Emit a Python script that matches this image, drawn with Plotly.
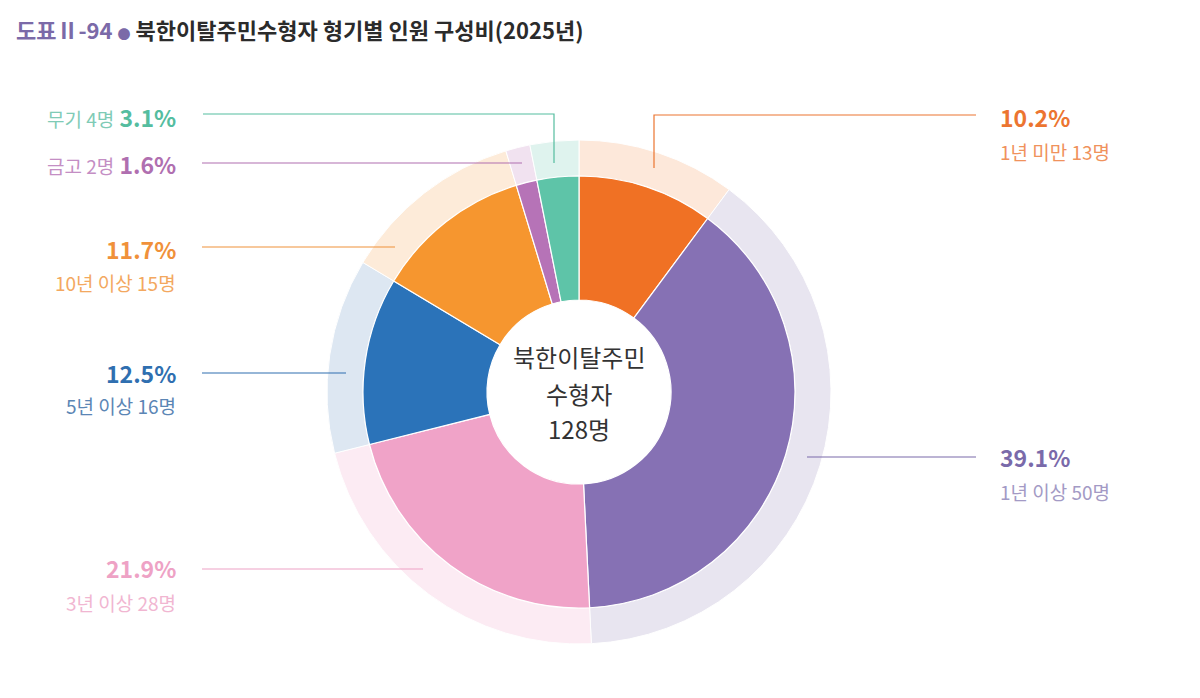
import plotly.graph_objects as go

W, H = 1200, 698

# ---- data ----
categories = ["1년 미만", "1년 이상", "3년 이상", "5년 이상", "10년 이상", "금고", "무기"]
counts = [13, 50, 28, 16, 15, 2, 4]
percents = [10.2, 39.1, 21.9, 12.5, 11.7, 1.6, 3.1]
center_lines = ["북한이탈주민", "수형자", "128명"]

# ---- styles ----
strong_colors = ["#f07124", "#8671b4", "#f0a3c8", "#2b73b9", "#f6962f", "#b673b7", "#5ec4a8"]
pale_colors = ["#fde8da", "#e8e5f0", "#fcebf3", "#dde7f2", "#fdebd9", "#f1e2f0", "#dff3ee"]
pct_colors = ["#ec7530", "#7a6aaa", "#eea2c5", "#2f6fb0", "#f0913a", "#b06fb0", "#55bd9f"]
sub_colors = ["#f0925c", "#a39ac5", "#f1b6d1", "#5b86b5", "#f3a860", "#c48ec4", "#7fcbb6"]

FONT = "Noto Sans CJK KR"

cx, cy = 579, 392
r_outer, r_inner, r_hole = 252, 216, 92


def px_dom(r):
    return dict(x=[(cx - r) / W, (cx + r) / W], y=[(H - cy - r) / H, (H - cy + r) / H])


def px(x, y):
    return x / W, 1 - y / H


fig = go.Figure()
fig.add_trace(go.Pie(
    labels=categories, values=counts, sort=False, direction="clockwise", rotation=0,
    domain=px_dom(r_outer), hole=r_inner / r_outer,
    marker=dict(colors=pale_colors, line=dict(color="white", width=1)),
    textinfo="none", hoverinfo="skip", showlegend=False,
))
fig.add_trace(go.Pie(
    labels=categories, values=counts, sort=False, direction="clockwise", rotation=0,
    domain=px_dom(r_inner), hole=r_hole / r_inner,
    marker=dict(colors=strong_colors, line=dict(color="white", width=1.2)),
    textinfo="none", hoverinfo="label+value+percent", showlegend=False,
))

annotations = []
shapes = []

SUB = 19
PCT = 23


def add_text(x, y, text, size, color, anchor, bold=False):
    xp, yp = px(x, y)
    annotations.append(dict(
        x=xp, y=yp, xref="paper", yref="paper", xanchor=anchor, yanchor="middle",
        text=f"<b>{text}</b>" if bold else text, showarrow=False,
        font=dict(family=FONT, size=size, color=color),
    ))


def add_line(points, color):
    path = "M " + " L ".join(f"{px(x, y)[0]},{px(x, y)[1]}" for x, y in points)
    shapes.append(dict(type="path", path=path, xref="paper", yref="paper",
                       line=dict(color=color, width=1.2)))


# right side
i = 0
add_text(998, 117, f"{percents[i]}%", PCT, pct_colors[i], "left", True)
add_text(998, 151, f"{categories[i]} {counts[i]}명", SUB, sub_colors[i], "left")
add_line([(976, 115), (654, 115), (654, 168)], pct_colors[i])

i = 1
add_text(998, 457, f"{percents[i]}%", PCT, pct_colors[i], "left", True)
add_text(998, 491, f"{categories[i]} {counts[i]}명", SUB, sub_colors[i], "left")
add_line([(976, 457), (807, 457)], pct_colors[i])

# left side
lx = 178
for i, (yp, ys, ly, lend) in {2: (568, 602, 569, 423), 3: (373, 406, 373, 346), 4: (249, 282, 247, 395)}.items():
    add_text(lx, yp, f"{percents[i]}%", PCT, pct_colors[i], "right", True)
    add_text(lx, ys, f"{categories[i]} {counts[i]}명", SUB, sub_colors[i], "right")
    add_line([(202, ly), (lend, ly)], pct_colors[i])

# single-line labels (금고, 무기)
for i, yy, pts in [(5, 164, [(202, 163), (522, 163)]), (6, 117, [(203, 114), (554, 114), (554, 163)])]:
    xp, yp = px(lx, yy)
    annotations.append(dict(
        x=xp, y=yp, xref="paper", yref="paper", xanchor="right", yanchor="middle",
        text=f"<span style='font-size:{SUB}px;fill:{sub_colors[i]}'>{categories[i]} {counts[i]}명</span> <b>{percents[i]}%</b>",
        showarrow=False, font=dict(family=FONT, size=PCT, color=pct_colors[i]),
    ))
    add_line(pts, pct_colors[i])

# center text
for line, yy in zip(center_lines, [356, 393, 428]):
    add_text(cx, yy, line, 24, "#333333", "center")

# title
xp, yp = px(14, 29)
annotations.append(dict(
    x=xp, y=yp, xref="paper", yref="paper", xanchor="left", yanchor="middle",
    text="<b><span style='fill:#7b6aa8'>도표Ⅱ-94 <span style='font-size:13px'>●</span></span> 북한이탈주민수형자 형기별 인원 구성비(2025년)</b>",
    showarrow=False, font=dict(family=FONT, size=22, color="#2b2b2b"),
))

fig.update_layout(
    width=W, height=H, margin=dict(l=0, r=0, t=0, b=0),
    paper_bgcolor="white", plot_bgcolor="white",
    annotations=annotations, shapes=shapes, showlegend=False,
)

fig.write_html("out.html")
